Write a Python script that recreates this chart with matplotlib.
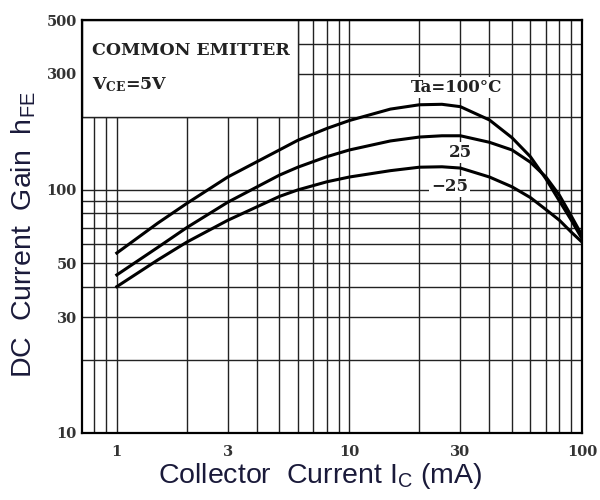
import matplotlib
matplotlib.use("Agg")
import matplotlib.pyplot as plt
from matplotlib.patches import Rectangle
from matplotlib.ticker import FixedLocator, FixedFormatter, NullFormatter

plt.rcParams['mathtext.default'] = 'regular'

# Collector current (mA) and DC current gain for each ambient temperature
ic = [1, 1.5, 2, 3, 5, 6, 8, 10, 15, 20, 25, 30, 40, 50, 60, 70, 80, 90, 100]
hfe_100 = [55, 73, 88, 113, 146, 160, 179, 193, 215, 224, 225, 220, 194, 164, 137, 111, 90, 75, 63]
hfe_25 = [44.7, 58, 70, 89, 115, 124, 137, 146, 159, 165, 167, 167, 157, 146, 130, 113, 95, 78, 65]
hfe_m25 = [40, 51.5, 61, 75, 94, 100, 108, 113, 120, 124, 124.5, 123, 113, 103, 93, 83, 75, 67, 61]

x_ticks = [1, 3, 10, 30, 100]
y_ticks = [10, 30, 50, 100, 300, 500]
x_grid = [0.8, 0.9, 1, 2, 3, 4, 5, 6, 7, 8, 9, 10, 20, 30, 40, 50, 60, 70, 80, 90, 100]
y_grid = [20, 30, 40, 50, 60, 70, 80, 90, 100, 200, 300, 400, 500]

fig = plt.figure(figsize=(6, 5), dpi=100)
ax = fig.add_axes([0.137, 0.134, 0.833, 0.826])
ax.set_xscale('log')
ax.set_yscale('log')
ax.set_xlim(0.71, 100)
ax.set_ylim(10, 500)

# grid lines drawn by hand so the ones on labelled values are kept too
for v in x_grid:
    ax.axvline(v, color='#222222', linewidth=1.0, zorder=1)
for v in y_grid:
    ax.axhline(v, color='#222222', linewidth=1.0, zorder=1)

ax.xaxis.set_major_locator(FixedLocator(x_ticks))
ax.xaxis.set_major_formatter(FixedFormatter([str(v) for v in x_ticks]))
ax.yaxis.set_major_locator(FixedLocator(y_ticks))
ax.yaxis.set_major_formatter(FixedFormatter([str(v) for v in y_ticks]))
ax.xaxis.set_minor_formatter(NullFormatter())
ax.yaxis.set_minor_formatter(NullFormatter())
ax.tick_params(which='both', length=0)
ax.tick_params(axis='x', pad=9)
ax.tick_params(axis='y', pad=4)
for lab in ax.get_xticklabels() + ax.get_yticklabels():
    lab.set_family('DejaVu Serif')
    lab.set_fontweight('bold')
    lab.set_fontsize(10.5)
    lab.set_color('#333333')

for s in ax.spines.values():
    s.set_linewidth(1.6)
    s.set_zorder(5)

# condition box in the upper-left corner
ax.add_patch(Rectangle((0.71, 200), 6 - 0.71, 300, facecolor='white',
                       edgecolor='#222222', linewidth=1.0, zorder=3))
ax.text(0.02, 0.927, 'COMMON EMITTER', transform=ax.transAxes, family='DejaVu Serif',
        fontweight='bold', fontsize=12.5, color='#222222', va='center', zorder=4)
ax.text(0.02, 0.843, 'V$_{CE}$=5V', transform=ax.transAxes, family='DejaVu Serif',
        fontweight='bold', fontsize=12.5, color='#222222', va='center', zorder=4)

ax.plot(ic, hfe_100, color='black', linewidth=2.2, zorder=4)
ax.plot(ic, hfe_25, color='black', linewidth=2.2, zorder=4)
ax.plot(ic, hfe_m25, color='black', linewidth=2.2, zorder=4)

lbl = dict(family='DejaVu Serif', fontweight='bold', fontsize=12, color='#222222',
           ha='center', va='center', zorder=4,
           bbox=dict(facecolor='white', edgecolor='none', pad=1.5))
ax.text(29, 263, 'Ta=100°C', **lbl)
ax.text(30, 143, '25', **lbl)
ax.text(27, 103, '−25', **lbl)

ax.set_xlabel('Collector  Current I$_{C}$ (mA)', family='Liberation Sans', fontsize=20.5,
              color='#1a1a3a')
ax.set_ylabel('DC  Current  Gain  h$_{FE}$', family='Liberation Sans', fontsize=20.5,
              color='#1a1a3a')
ax.xaxis.set_label_coords(0.476, -0.068)
ax.yaxis.set_label_coords(-0.088, 0.48)

fig.savefig('out.png', dpi=100)
